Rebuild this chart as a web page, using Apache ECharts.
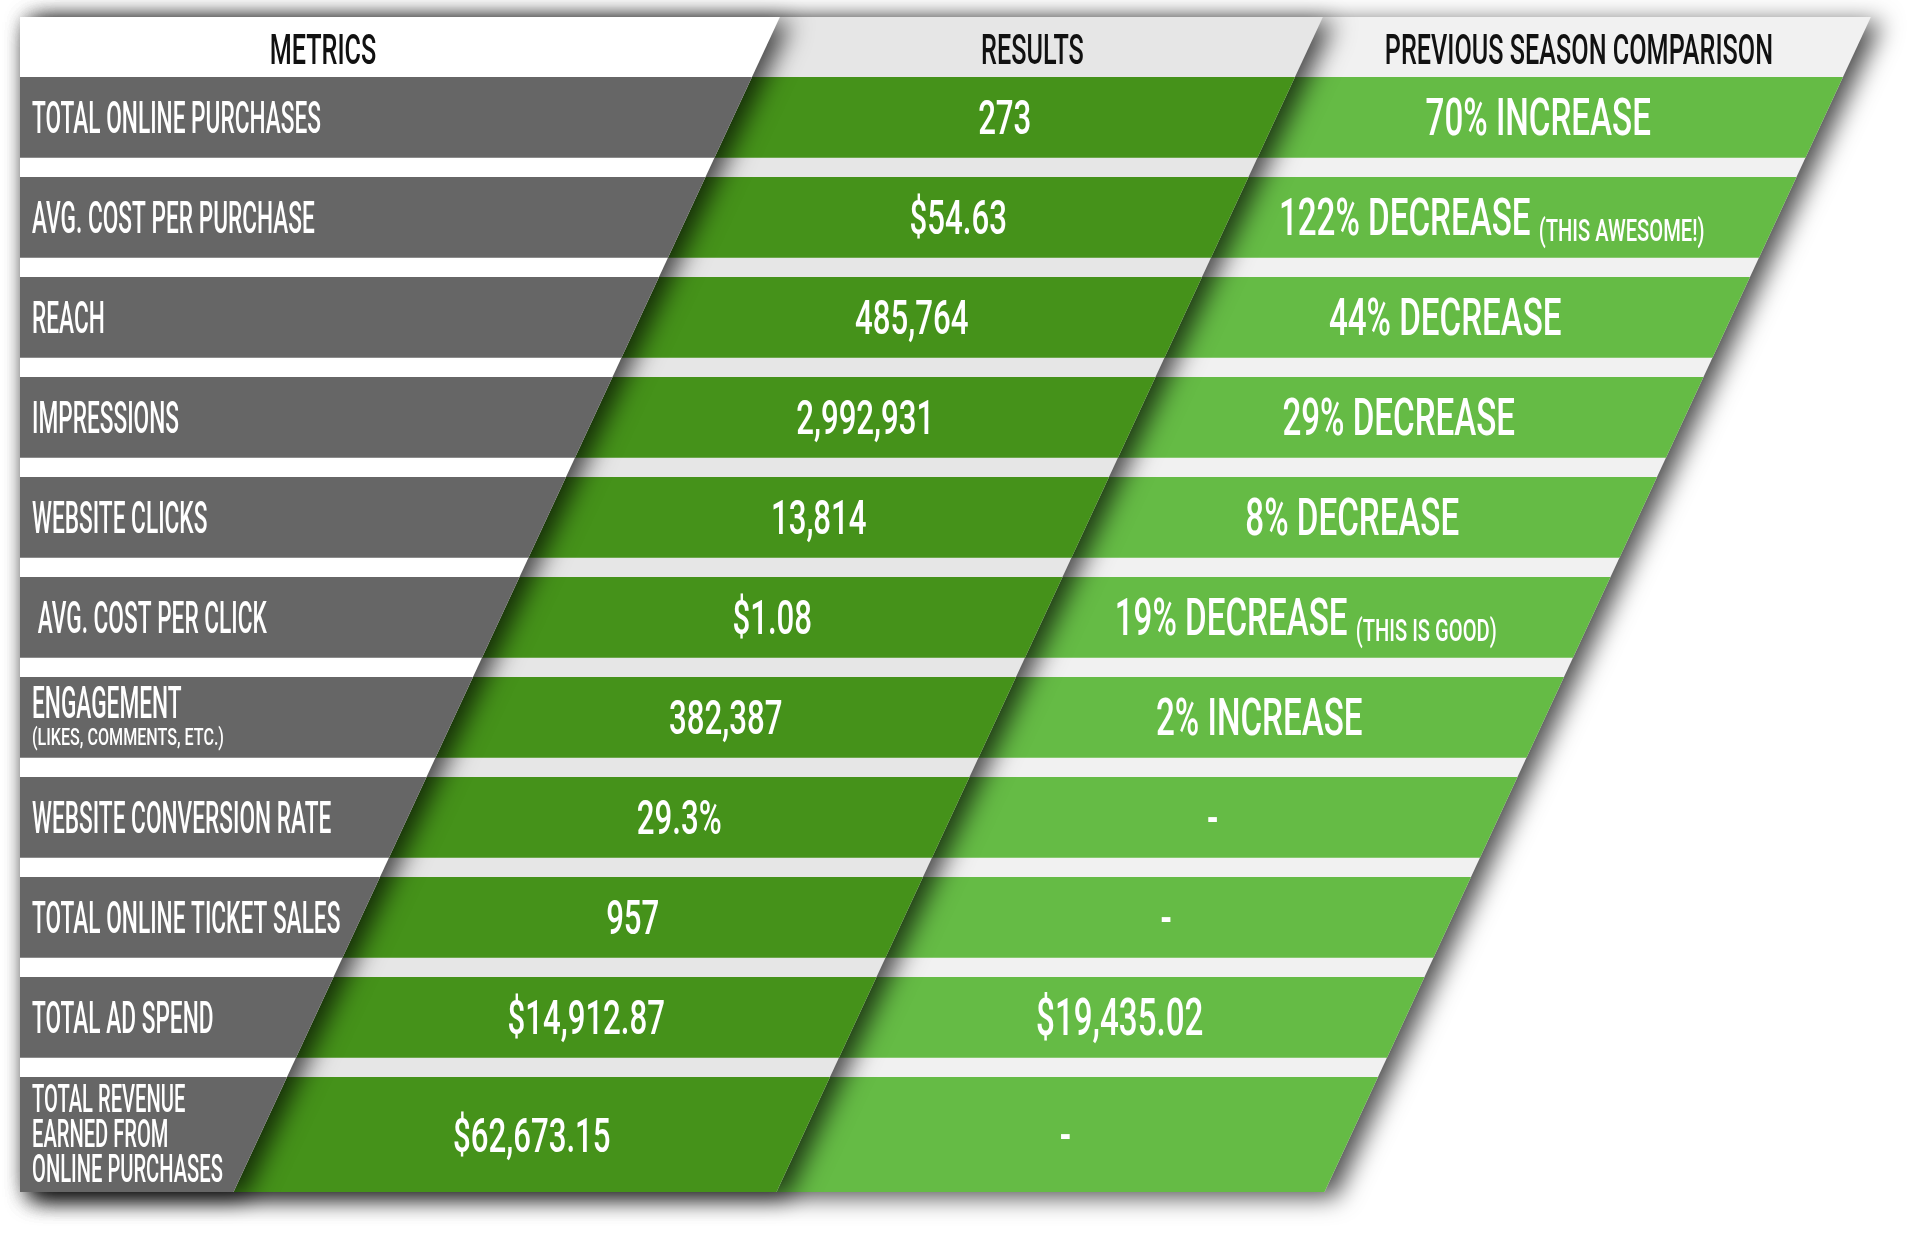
<!DOCTYPE html>
<html>

<head>
    <meta charset="UTF-8">
    <title>Campaign results</title>
    <style>
        html, body { margin: 0; padding: 0; background: #fff; }
        #container { width: 1920px; height: 1242px; }
    </style>
</head>

<body>
    <div id="container"></div>
    <script src="https://cdn.jsdelivr.net/npm/echarts@6/dist/echarts.min.js"></script>
    <script>
        var headers = ['METRICS', 'RESULTS', 'PREVIOUS SEASON COMPARISON'];
        var metrics = [
            'TOTAL ONLINE PURCHASES',
            'AVG. COST PER PURCHASE',
            'REACH',
            'IMPRESSIONS',
            'WEBSITE CLICKS',
            ' AVG. COST PER CLICK',
            'ENGAGEMENT',
            'WEBSITE CONVERSION RATE',
            'TOTAL ONLINE TICKET SALES',
            'TOTAL AD SPEND',
            'TOTAL REVENUE\nEARNED FROM\nONLINE PURCHASES'
        ];
        var metricNotes = ['', '', '', '', '', '', '(LIKES, COMMENTS, ETC.)', '', '', '', ''];
        var results = ['273', '$54.63', '485,764', '2,992,931', '13,814', '$1.08', '382,387', '29.3%', '957', '$14,912.87', '$62,673.15'];
        var comparison = ['70% INCREASE', '122% DECREASE', '44% DECREASE', '29% DECREASE', '8% DECREASE', '19% DECREASE', '2% INCREASE', '-', '-', '$19,435.02', '-'];
        var comparisonNotes = ['', '(THIS AWESOME!)', '', '', '', '(THIS IS GOOD)', '', '', '', '', ''];

        // layout: x in pixels, y in row units (row i starts at y = i)
        var LEFT = 20;
        var EDGE = [752, 1295, 1843];      // right edge of each column at y = 0
        var SLANT = 46.5;                  // px the edges move left per row
        var HEADER_TOP = -0.6;
        var ROW_H = 0.807;
        var LAST_H = 1.15;
        var BOTTOM = metrics.length - 1 + LAST_H;

        var panelColor = ['#ffffff', '#e6e6e6', '#f1f1f1'];
        var cellColor = ['#666666', '#45921a', '#65bb45'];
        var headerShift = [-70, -5, -4];
        var valueShift = [0, 0, -12];
        var FONT = 'Roboto';
        var WEIGHT = 500;

        function edgeAt(c, y) {
            return EDGE[c] - SLANT * y;
        }

        function quad(api, c, y0, y1) {
            return [
                api.coord([LEFT, y0]),
                api.coord([edgeAt(c, y0), y0]),
                api.coord([edgeAt(c, y1), y1]),
                api.coord([LEFT, y1])
            ];
        }

        function cellCenter(c, yc) {
            var left = c === 0 ? LEFT : edgeAt(c - 1, yc);
            return (left + edgeAt(c, yc)) / 2;
        }

        function txt(x, y, sx, text, size, align, extra) {
            var style = {
                text: text,
                fill: '#ffffff',
                fontFamily: FONT,
                fontWeight: WEIGHT,
                fontSize: size,
                align: align,
                verticalAlign: 'middle'
            };
            if (extra) for (var k in extra) style[k] = extra[k];
            return { type: 'text', x: x, y: y, scaleX: sx, style: style };
        }

        function valueText(c, i) {
            if (c === 1) return '{v|' + results[i] + '}';
            var t = '{w|' + comparison[i] + '}';
            if (comparisonNotes[i]) t += '{w| }{n|' + comparisonNotes[i] + '}';
            return t;
        }

        function renderColumn(c) {
            return function (params, api) {
                var row = api.value(1);
                var children = [];
                if (row < 0) {
                    // whole column panel (header + gaps colour) with its drop shadow
                    children.push({
                        type: 'polygon',
                        shape: { points: quad(api, c, HEADER_TOP, BOTTOM) },
                        style: {
                            fill: panelColor[c],
                            shadowBlur: 24,
                            shadowColor: 'rgba(0,0,0,0.7)',
                            shadowOffsetX: 11,
                            shadowOffsetY: 5
                        }
                    });
                    var hy = HEADER_TOP / 2;
                    var hp = api.coord([cellCenter(c, hy) + headerShift[c], hy]);
                    children.push(txt(hp[0], hp[1] + 6, 0.6, headers[c], 42, 'center', { fill: '#111111' }));
                    return { type: 'group', children: children };
                }

                var y0 = row;
                var y1 = row + (row === metrics.length - 1 ? LAST_H : ROW_H);
                var yc = (y0 + y1) / 2;
                children.push({
                    type: 'polygon',
                    shape: { points: quad(api, c, y0, y1) },
                    style: { fill: cellColor[c] }
                });

                if (c === 0) {
                    var lp = api.coord([LEFT + 12, yc]);
                    var lines = metrics[row].split('\n');
                    if (metricNotes[row]) {
                        children.push(txt(lp[0], lp[1] - 10, 0.515, metrics[row], 44, 'left'));
                        children.push(txt(lp[0], lp[1] + 22, 0.7, metricNotes[row], 23, 'left'));
                    } else if (lines.length > 1) {
                        children.push(txt(lp[0], lp[1] + 3, 0.53, metrics[row], 38, 'left', { lineHeight: 35 }));
                    } else {
                        children.push(txt(lp[0], lp[1] + 5, 0.515, metrics[row], 44, 'left'));
                    }
                } else {
                    var vp = api.coord([cellCenter(c, yc) + valueShift[c], yc]);
                    children.push(txt(vp[0], vp[1] + 5, 0.65, valueText(c, row), 48, 'center', {
                        rich: {
                            v: { fontFamily: FONT, fontWeight: WEIGHT, fontSize: 48, lineHeight: 52, fill: '#fff' },
                            w: { fontFamily: FONT, fontWeight: WEIGHT, fontSize: 51, lineHeight: 52, fill: '#fff' },
                            n: { fontFamily: FONT, fontWeight: WEIGHT, fontSize: 31, lineHeight: 38, verticalAlign: 'bottom', fill: '#fff' }
                        }
                    }));
                }
                return { type: 'group', children: children };
            };
        }

        function columnData(c) {
            var data = [[c, -1]];
            for (var i = 0; i < metrics.length; i++) data.push([c, i]);
            return data;
        }

        var myChart = echarts.init(document.getElementById('container'));
        myChart.setOption({
            animation: false,
            grid: { left: 0, right: 0, top: 17, bottom: 50 },
            xAxis: { type: 'value', min: 0, max: 1920, show: false },
            yAxis: { type: 'value', min: HEADER_TOP, max: BOTTOM, inverse: true, show: false },
            series: [
                { type: 'custom', z: 2, renderItem: renderColumn(2), data: columnData(2) },
                { type: 'custom', z: 3, renderItem: renderColumn(1), data: columnData(1) },
                { type: 'custom', z: 4, renderItem: renderColumn(0), data: columnData(0) }
            ]
        });
    </script>
</body>

</html>
